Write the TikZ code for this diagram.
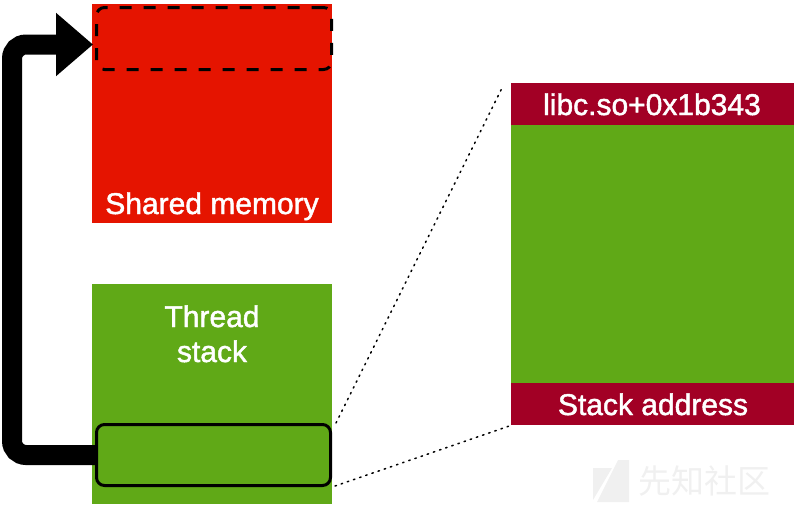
\documentclass[tikz,border=0pt]{standalone}
\usepackage{fontspec}
\setmainfont{Liberation Sans}[FakeBold=1.5]
\newfontfamily\cjkfont{Noto Sans CJK SC}
\usetikzlibrary{arrows.meta,calc}
\definecolor{memred}{HTML}{E51400}
\definecolor{stackgreen}{HTML}{60A917}
\definecolor{bandred}{HTML}{A20025}
\definecolor{wmgray}{HTML}{F0F0F0}
\tikzset{
  block/.style={fill=#1, draw=none, inner sep=0pt, anchor=north west},
  lbl/.style={text=white, font=\fontsize{30}{36}\selectfont, anchor=base, inner sep=0pt},
  outlinebox/.style={draw=black, line width=3pt, rounded corners=8pt, inner sep=0pt, anchor=north west},
  zoomline/.style={line width=1.5pt, dash pattern=on 1.5pt off 5pt, line cap=round},
  bigarrow/.style={line width=20pt, rounded corners=14pt, -{Triangle[length=37pt,width=61pt]}}
}
\begin{document}
\begin{tikzpicture}[x=1pt,y=-1pt]
\useasboundingbox (0,0) rectangle (794,507);
% shared memory
\node[block=memred, minimum width=240pt, minimum height=219pt] (shm) at (92,4) {};
\node[outlinebox, dash pattern=on 12pt off 12pt, minimum width=235pt, minimum height=62pt] (shbox) at (95,6) {};
\node[lbl] (shmlbl) at (212,214) {Shared memory};
% thread stack
\node[block=stackgreen, minimum width=240pt, minimum height=220pt] (ts) at (92,284) {};
\node[lbl] (tslbl1) at (212,327) {Thread};
\node[lbl] (tslbl2) at (212,362) {stack};
\node[outlinebox, minimum width=234pt, minimum height=61pt] (tsbox) at (95,423) {};
% right panel
\node[block=stackgreen, minimum width=283pt, minimum height=342pt] (rp) at (511,83) {};
\node[block=bandred, minimum width=283pt, minimum height=42pt] (topband) at (511,83) {};
\node[block=bandred, minimum width=283pt, minimum height=42pt] (botband) at (511,383) {};
\node[lbl] (libc) at (652,115) {libc.so+0x1b343};
\node[lbl] (saddr) at (653,415) {Stack address};
% zoom lines
\coordinate (ztop) at (503,86);
\draw[zoomline] ($(tsbox.north east)+(4,0)$) -- (ztop);
\draw[zoomline] ($(tsbox.south east)+(3,-1)$) -- (botband.south west);
% big arrow
\draw[bigarrow] (tsbox.west) -- ++(-83,0) |- ($(shbox.west)+(-2,6)$);
% watermark
\fill[wmgray] (593,468) -- (612,468) -- (593,500) -- cycle;
\fill[wmgray] (618,460) -- (629,460) -- (629,502) -- (597,502) -- cycle;
\node[text=wmgray, font=\cjkfont\fontsize{33}{36}\selectfont, anchor=west, inner sep=0pt] (wm) at (638,481) {先知社区};
\end{tikzpicture}
\end{document}
